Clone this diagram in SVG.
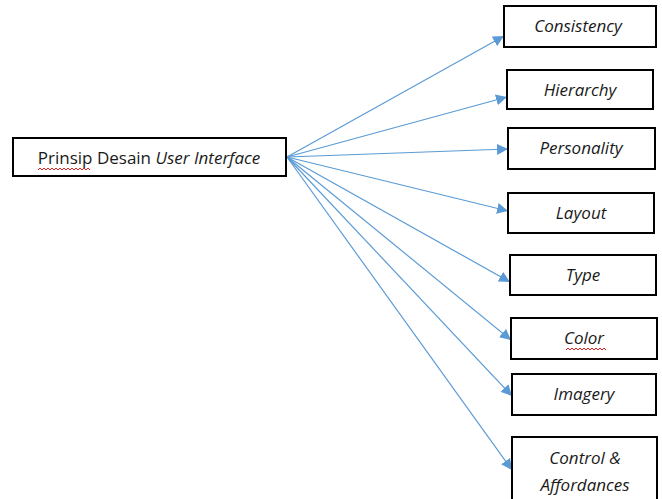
<svg xmlns="http://www.w3.org/2000/svg" width="662" height="499" viewBox="0 0 662 499">
<style>
.box{fill:#fff;stroke:#000;stroke-width:2}
.t{font-family:"Open Sans","Liberation Sans",sans-serif;font-size:17px;fill:#1a1a1a;text-anchor:middle}
.i{font-style:italic}
.c{stroke:#5B9BD5;stroke-width:1.2;fill:none;marker-end:url(#ah)}
.sq{stroke:#e02020;stroke-width:1;fill:none}
</style>
<defs>
<marker id="ah" viewBox="0 0 10 10" refX="10" refY="5" markerWidth="11" markerHeight="11" markerUnits="userSpaceOnUse" orient="auto">
<path d="M0,0 L10,5 L0,10 z" fill="#5B9BD5"/>
</marker>
</defs>
<rect width="662" height="499" fill="#fff"/>
<g id="connectors">
<line class="c" x1="287" y1="157" x2="504" y2="36"/>
<line class="c" x1="287" y1="157" x2="507" y2="97"/>
<line class="c" x1="287" y1="157" x2="508" y2="149"/>
<line class="c" x1="287" y1="157" x2="508" y2="211"/>
<line class="c" x1="287" y1="157" x2="510" y2="282"/>
<line class="c" x1="287" y1="157" x2="511" y2="340"/>
<line class="c" x1="287" y1="157" x2="512" y2="396"/>
<line class="c" x1="287" y1="157" x2="512" y2="470"/>
</g>
<g id="main">
<rect class="box" x="13" y="138" width="273" height="38"/>
<text class="t" x="149" y="164">Prinsip Desain <tspan class="i">User Interface</tspan></text>
<path class="sq" d="M38,170 l2,-2 l2,2 l2,-2 l2,2 l2,-2 l2,2 l2,-2 l2,2 l2,-2 l2,2 l2,-2 l2,2 l2,-2 l2,2 l2,-2 l2,2 l2,-2 l2,2 l2,-2 l2,2 l2,-2 l2,2 l2,-2 l2,2 l2,-2 l2,2"/>
</g>
<g id="consistency">
<rect class="box" x="504" y="6" width="152" height="41"/>
<text class="t i" x="578" y="32">Consistency</text>
</g>
<g id="hierarchy">
<rect class="box" x="507" y="70" width="146" height="39"/>
<text class="t i" x="580" y="96">Hierarchy</text>
</g>
<g id="personality">
<rect class="box" x="508" y="128" width="147" height="41"/>
<text class="t i" x="581" y="154">Personality</text>
</g>
<g id="layout">
<rect class="box" x="508" y="193" width="146" height="40"/>
<text class="t i" x="581" y="219">Layout</text>
</g>
<g id="type">
<rect class="box" x="510" y="255" width="146" height="40"/>
<text class="t i" x="583" y="281">Type</text>
</g>
<g id="color">
<rect class="box" x="511" y="318" width="146" height="41"/>
<text class="t i" x="584" y="344">Color</text>
<path class="sq" d="M566,350 l2,-2 l2,2 l2,-2 l2,2 l2,-2 l2,2 l2,-2 l2,2 l2,-2 l2,2 l2,-2 l2,2 l2,-2 l2,2 l2,-2 l2,2 l2,-2 l2,2 l2,-2 l2,2"/>
</g>
<g id="imagery">
<rect class="box" x="512" y="374" width="144" height="41"/>
<text class="t i" x="584" y="400">Imagery</text>
</g>
<g id="control">
<rect class="box" x="512" y="437" width="145" height="70"/>
<text class="t i" x="585" y="464">Control &amp;</text>
<text class="t i" x="585" y="491">Affordances</text>
</g>
</svg>
